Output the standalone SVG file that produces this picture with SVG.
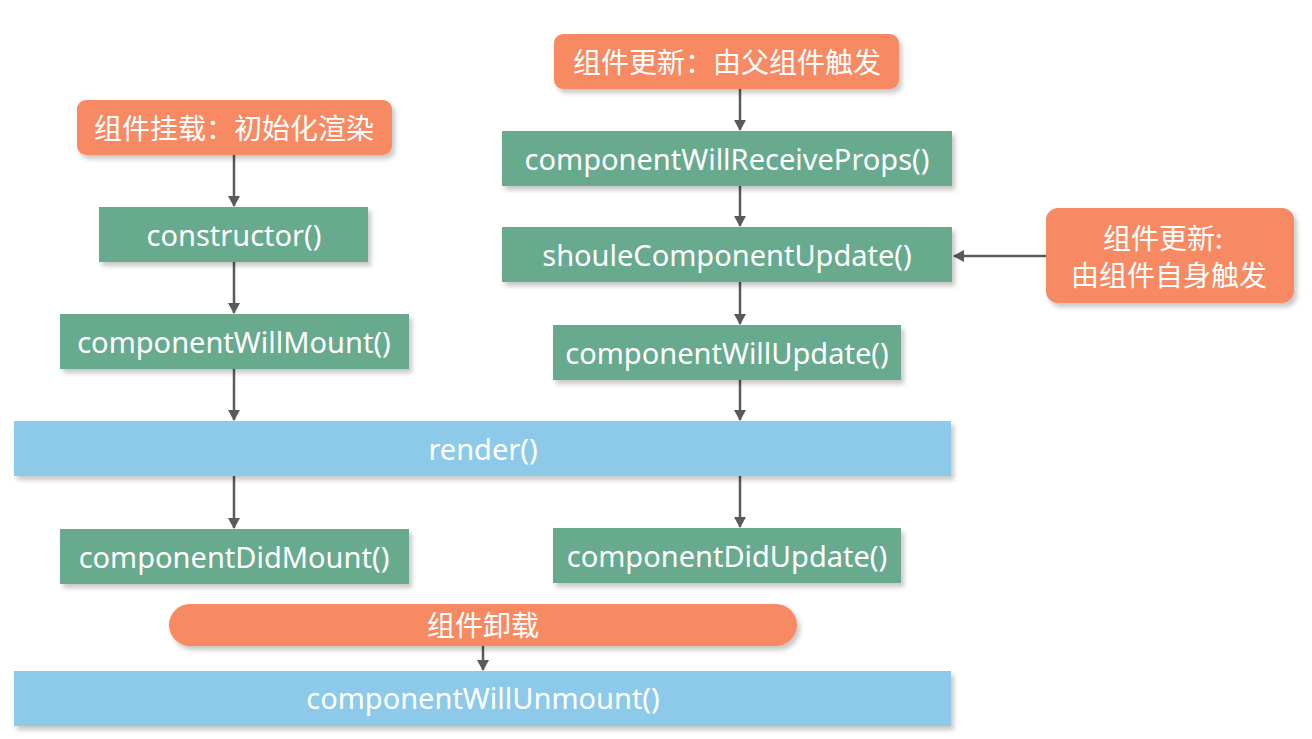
<svg xmlns="http://www.w3.org/2000/svg" width="1312" height="739" viewBox="0 0 1312 739">
<defs>
<filter id="sh" x="-5%" y="-20%" width="115%" height="150%">
<feDropShadow dx="3" dy="4" stdDeviation="2.5" flood-color="#000" flood-opacity="0.22"/>
</filter>
<marker id="ah" markerWidth="12" markerHeight="12" refX="10" refY="6" orient="auto" markerUnits="userSpaceOnUse">
<path d="M0,0 L11,6 L0,12 Z" fill="#5a5a5a"/>
</marker>
</defs>
<style>
.o{fill:#F78A62;filter:url(#sh)}
.g{fill:#67AA8E;filter:url(#sh)}
.b{fill:#8DCAEA;filter:url(#sh)}
text{fill:#fff;font-family:"Noto Sans","Open Sans","Noto Sans CJK SC",sans-serif;font-size:29px;text-anchor:middle;dominant-baseline:central}
.cn{font-family:"Noto Sans CJK SC","Noto Sans",sans-serif;font-size:28px}
.c line{stroke:#5a5a5a;stroke-width:2.5;marker-end:url(#ah)}
</style>
<rect width="1312" height="739" fill="#fff"/>
<g class="c">
<line x1="234" y1="155" x2="234" y2="206"/>
<line x1="234" y1="262" x2="234" y2="313"/>
<line x1="234" y1="369" x2="234" y2="420"/>
<line x1="234" y1="476" x2="234" y2="528"/>
<line x1="740" y1="89" x2="740" y2="130"/>
<line x1="740" y1="186" x2="740" y2="226"/>
<line x1="740" y1="282" x2="740" y2="324"/>
<line x1="740" y1="380" x2="740" y2="420"/>
<line x1="740" y1="476" x2="740" y2="527"/>
<line x1="1046" y1="256" x2="954" y2="256"/>
<line x1="483" y1="646" x2="483" y2="670"/>
</g>
<g id="mount"><rect class="o" x="77" y="100" width="315" height="55" rx="9"/><text class="cn" x="234" y="127">组件挂载：初始化渲染</text></g>
<g id="constructor"><rect class="g" x="99" y="207" width="269" height="55"/><text x="234" y="234">constructor()</text></g>
<g id="willMount"><rect class="g" x="60" y="314" width="349" height="55"/><text x="234" y="341">componentWillMount()</text></g>
<g id="render"><rect class="b" x="14" y="421" width="937" height="55"/><text x="483" y="448">render()</text></g>
<g id="didMount"><rect class="g" x="60" y="529" width="349" height="55"/><text x="234" y="556">componentDidMount()</text></g>
<g id="parentUpdate"><rect class="o" x="554" y="34" width="345" height="55" rx="9"/><text class="cn" x="727" y="61">组件更新：由父组件触发</text></g>
<g id="receiveProps"><rect class="g" x="502" y="131" width="450" height="55"/><text x="727" y="158">componentWillReceiveProps()</text></g>
<g id="shouldUpdate"><rect class="g" x="502" y="227" width="450" height="55"/><text x="727" y="254">shouleComponentUpdate()</text></g>
<g id="selfUpdate"><rect class="o" x="1046" y="208" width="248" height="95" rx="12"/><text class="cn" x="1163" y="237" font-size="27">组件更新:</text><text class="cn" x="1169" y="274" font-size="27">由组件自身触发</text></g>
<g id="willUpdate"><rect class="g" x="553" y="325" width="348" height="55"/><text x="727" y="352">componentWillUpdate()</text></g>
<g id="didUpdate"><rect class="g" x="553" y="528" width="348" height="55"/><text x="727" y="555">componentDidUpdate()</text></g>
<g id="unmount"><rect class="o" x="169" y="604" width="628" height="42" rx="21"/><text class="cn" x="483" y="624">组件卸载</text></g>
<g id="willUnmount"><rect class="b" x="14" y="671" width="937" height="55"/><text x="483" y="697">componentWillUnmount()</text></g>
</svg>
